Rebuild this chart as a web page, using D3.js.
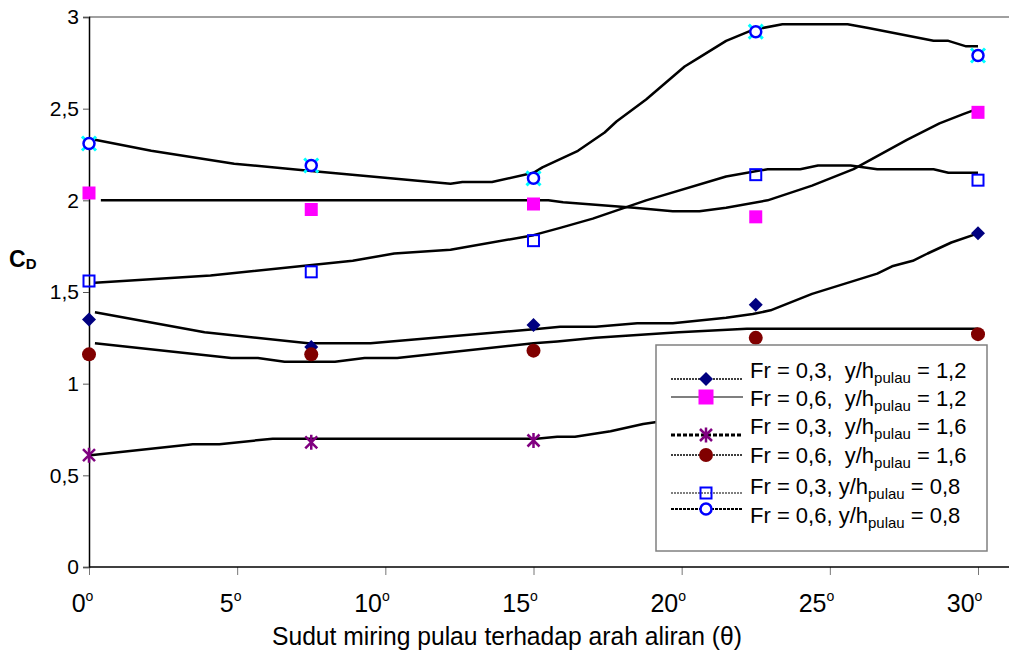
<!DOCTYPE html>
<html>
<head>
<meta charset="utf-8">
<script src="https://cdn.jsdelivr.net/npm/d3@7"></script>
<style>
  body { margin: 0; background: #fff; }
  svg { display: block; }
</style>
</head>
<body>
<script>
// measured points (angle in degrees, drag coefficient)
const angles = [0, 7.5, 15, 22.5, 30];
const cdFr03h12 = [1.35, 1.20, 1.32, 1.43, 1.82];
const cdFr06h12 = [2.04, 1.95, 1.98, 1.91, 2.48];
const cdFr03h16 = [0.61, 0.68, 0.69, 0.81, 0.86];
const cdFr06h16 = [1.16, 1.16, 1.18, 1.25, 1.27];
const cdFr03h08 = [1.56, 1.61, 1.78, 2.14, 2.11];
const cdFr06h08 = [2.31, 2.19, 2.12, 2.92, 2.79];

// black trend curves: [angle, CD]
const trendFr06h08 = [[0.2, 2.33], [2.1, 2.27], [4.9, 2.20], [7.5, 2.16], [12.2, 2.09], [12.6, 2.10], [13.6, 2.10],
  [15.0, 2.15], [15.3, 2.18], [16.5, 2.27], [17.4, 2.37], [17.8, 2.43], [18.8, 2.55], [20.1, 2.73], [20.6, 2.78],
  [21.5, 2.87], [22.4, 2.93], [23.4, 2.96], [25.6, 2.96], [26.3, 2.94], [28.5, 2.87], [29.0, 2.87], [29.6, 2.84], [30, 2.84]];
const trendFr06h12 = [[0.4, 2.0], [15.5, 2.0], [16.0, 1.99], [18.4, 1.96], [19.7, 1.94], [20.6, 1.94], [21.5, 1.96],
  [22.9, 2.0], [24.4, 2.08], [25.8, 2.17], [27.6, 2.33], [28.7, 2.42], [29.5, 2.47], [30, 2.50]];
const trendFr03h08 = [[0.2, 1.55], [4.1, 1.59], [8.9, 1.67], [10.3, 1.71], [12.2, 1.73], [15.0, 1.81], [15.9, 1.85],
  [17.0, 1.90], [18.8, 2.0], [21.5, 2.13], [22.9, 2.17], [24.0, 2.17], [24.6, 2.19], [25.7, 2.19], [26.6, 2.17],
  [28.5, 2.17], [29.0, 2.15], [30, 2.15]];
const trendFr03h12 = [[0.2, 1.39], [3.9, 1.28], [7.4, 1.22], [9.5, 1.22], [15.2, 1.30], [15.9, 1.31], [17.1, 1.31],
  [18.5, 1.33], [19.7, 1.33], [21.5, 1.36], [22.4, 1.38], [23.0, 1.40], [24.4, 1.49], [26.6, 1.60], [27.1, 1.64],
  [27.8, 1.67], [28.3, 1.71], [29.1, 1.77], [30, 1.82]];
const trendFr06h16 = [[0.2, 1.22], [4.8, 1.14], [5.7, 1.14], [6.6, 1.12], [8.3, 1.12], [9.3, 1.14], [10.4, 1.14],
  [15.0, 1.22], [15.8, 1.23], [17.1, 1.25], [19.9, 1.28], [22.2, 1.30], [30, 1.30]];
const trendFr03h16 = [[0.05, 0.61], [3.5, 0.67], [4.4, 0.67], [6.2, 0.70], [15.1, 0.70], [15.8, 0.71], [16.4, 0.71],
  [17.6, 0.74], [18.7, 0.78], [19.1, 0.79], [22.5, 0.82], [30, 0.86]];

const xTicks = [0, 5, 10, 15, 20, 25, 30];
const yTicks = [0, 0.5, 1, 1.5, 2, 2.5, 3];
const legendLabels = [
  ["Fr = 0,3,  y/h", "pulau", " = 1,2"],
  ["Fr = 0,6,  y/h", "pulau", " = 1,2"],
  ["Fr = 0,3,  y/h", "pulau", " = 1,6"],
  ["Fr = 0,6,  y/h", "pulau", " = 1,6"],
  ["Fr = 0,3, y/h", "pulau", " = 0,8"],
  ["Fr = 0,6, y/h", "pulau", " = 0,8"]
];

const width = 1009, height = 657,
  margin = ({ top: 17, right: 31, bottom: 90, left: 89 });

const x = d3.scaleLinear().domain([0, 30]).range([margin.left, width - margin.right]);
const y = d3.scaleLinear().domain([0, 3]).range([height - margin.bottom, margin.top]);

const svg = d3.select("body").append("svg")
  .attr("width", width).attr("height", height)
  .style("font-family", "'Liberation Sans', Arial, sans-serif");

// markers
const diamond = s => `M0,${-s}L${s},0L0,${s}L${-s},0Z`;
const markerStyles = [
  { draw: g => g.append("path").attr("d", diamond(7)).attr("fill", "#000080") },
  { draw: g => g.append("rect").attr("x", -6.5).attr("y", -6.5).attr("width", 13).attr("height", 13).attr("fill", "#ff00ff") },
  { draw: g => g.append("path").attr("d", "M-6,-6L6,6M-6,6L6,-6M0,-7.5V7.5").attr("stroke", "#800080").attr("stroke-width", 2.5).attr("fill", "none") },
  { draw: g => g.append("circle").attr("r", 7).attr("fill", "#800000") },
  { draw: g => g.append("rect").attr("x", -5.5).attr("y", -5.5).attr("width", 11).attr("height", 11).attr("fill", "none").attr("stroke", "#0000ff").attr("stroke-width", 2) },
  { draw: g => g.append("circle").attr("r", 5.5).attr("fill", "#fff").attr("stroke", "#0000ff").attr("stroke-width", 2.5) }
];
const series = [cdFr03h12, cdFr06h12, cdFr03h16, cdFr06h16, cdFr03h08, cdFr06h08];
const trends = [trendFr06h08, trendFr06h12, trendFr03h08, trendFr03h12, trendFr06h16, trendFr03h16];

// frame: top line grey, axes black
svg.append("line").attr("x1", x(0)).attr("x2", width).attr("y1", y(3)).attr("y2", y(3))
  .attr("stroke", "#808080").attr("stroke-width", 1.5);

const yAxis = svg.append("g")
  .attr("transform", `translate(${x(0)},0)`)
  .call(d3.axisLeft(y).tickValues(yTicks).tickSize(6).tickPadding(4)
    .tickFormat(d => String(d).replace(".", ",")));
yAxis.select(".domain").attr("stroke", "#000").attr("stroke-width", 1.5);
yAxis.selectAll(".tick line").attr("stroke", "#555");
yAxis.selectAll(".tick text").attr("font-size", 21).attr("fill", "#000")
  .attr("font-family", "'Liberation Sans', Arial, sans-serif");

const xAxis = svg.append("g")
  .attr("transform", `translate(0,${y(0)})`)
  .call(d3.axisBottom(x).tickValues(xTicks).tickSize(8).tickFormat(""));
xAxis.select(".domain").remove();
xAxis.selectAll(".tick line").attr("stroke", "#777");
xAxis.append("line").attr("x1", x(0)).attr("x2", width).attr("stroke", "#000").attr("stroke-width", 1.5);
xAxis.selectAll(".tick").each(function(d) {
  const t = d3.select(this).append("text")
    .attr("y", 45).attr("fill", "#000")
    .attr("font-family", "'Liberation Sans Narrow', 'Liberation Sans', sans-serif")
    .attr("font-size", 25);
  t.append("tspan").text(d);
  t.append("tspan").attr("font-size", 14).attr("dy", -11).text("o");
  const num = t.select("tspan").node().getComputedTextLength();
  t.attr("x", -num / 2);
});

svg.append("text")
  .attr("x", 272).attr("y", 645)
  .attr("font-family", "'Liberation Sans Narrow', 'Liberation Sans', sans-serif")
  .attr("font-size", 25)
  .attr("textLength", 470).attr("lengthAdjust", "spacingAndGlyphs")
  .text("Sudut miring pulau terhadap arah aliran (\u03b8)");

const cd = svg.append("text").attr("x", 9).attr("y", 267)
  .attr("font-weight", "bold").attr("font-size", 23);
cd.append("tspan").text("C");
cd.append("tspan").attr("font-size", 15).attr("dy", 2).text("D");

// trend curves
const line = d3.line().x(d => x(d[0])).y(d => y(d[1]));
svg.append("g").selectAll("path")
  .data(trends).join("path")
  .attr("d", line)
  .attr("fill", "none").attr("stroke", "#000").attr("stroke-width", 2.5)
  .attr("stroke-linejoin", "round");

// cyan crosses sitting under the open circles
svg.append("g").selectAll("path")
  .data(angles.map((a, i) => [a, cdFr06h08[i]])).join("path")
  .attr("transform", d => `translate(${x(d[0])},${y(d[1])})`)
  .attr("d", "M-7,-7L7,7M-7,7L7,-7")
  .attr("stroke", "#00ffff").attr("stroke-width", 3);

series.forEach((vals, si) => {
  svg.append("g").selectAll("g")
    .data(angles.map((a, i) => [a, vals[i]])).join("g")
    .attr("transform", d => `translate(${x(d[0])},${y(d[1])})`)
    .each(function() { markerStyles[si].draw(d3.select(this)); });
});

// legend
const lg = svg.append("g").attr("transform", "translate(656,345)");
lg.append("rect").attr("width", 331).attr("height", 206)
  .attr("fill", "#fff").attr("stroke", "#808080").attr("stroke-width", 1.5);
const rowLine = [34, 52, 90, 110, 148, 164];
const rowText = [33, 61, 89, 118, 149, 178];
const rowDash = ["2,1", null, "4,2", "2,1", "2,1", "3,1"];
const rowWidth = [1.5, 1.2, 3, 1.5, 1.2, 2];
legendLabels.forEach((lab, i) => {
  lg.append("line").attr("x1", 15).attr("x2", 87).attr("y1", rowLine[i]).attr("y2", rowLine[i])
    .attr("stroke", "#000").attr("stroke-width", rowWidth[i])
    .attr("stroke-dasharray", rowDash[i]);
  const m = lg.append("g").attr("transform", `translate(50,${rowLine[i]})`);
  markerStyles[i].draw(m);
  if (i === 1) m.select("rect").attr("x", -7.5).attr("y", -7.5).attr("width", 15).attr("height", 15);
  const t = lg.append("text").attr("x", 94).attr("y", rowText[i]).attr("font-size", 22)
    .style("white-space", "pre");
  t.append("tspan").text(lab[0]);
  t.append("tspan").attr("font-size", 15).attr("dy", 5).text(lab[1]);
  t.append("tspan").attr("dy", -5).text(lab[2]);
});
</script>
</body>
</html>
